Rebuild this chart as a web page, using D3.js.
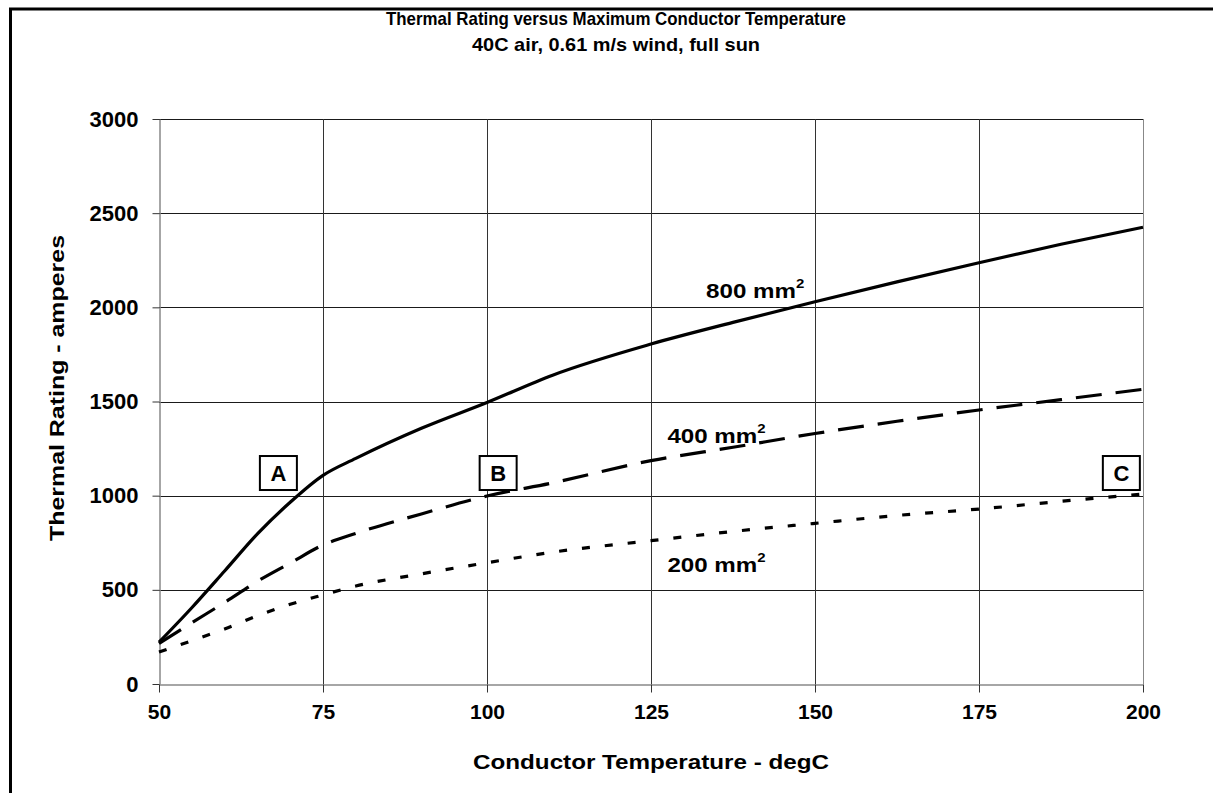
<!DOCTYPE html>
<html>
<head>
<meta charset="utf-8">
<script src="https://cdn.jsdelivr.net/npm/d3@7"></script>
<style>
  html, body { margin: 0; padding: 0; background: #ffffff; }
  svg { display: block; }
  text { font-family: "Liberation Sans", Arial, Helvetica, sans-serif; fill: #000; }
</style>
</head>
<body>
<svg id="chart" width="1213" height="793"></svg>
<script>
// Conductor temperature (degC) at which each rating was read
const temps = [50, 55, 60, 65, 70, 75, 80, 90, 100, 110, 125, 137.5, 150, 162.5, 175, 187.5, 200];

// Thermal rating (amperes) for each conductor size
const rating800 = [222, 405, 600, 797, 965, 1108, 1198, 1358, 1495, 1640, 1805, 1920, 2030, 2135, 2237, 2335, 2425];
const rating400 = [215, 325, 433, 545, 642, 738, 800, 903, 998, 1068, 1186, 1257, 1330, 1395, 1455, 1510, 1565];
const rating200 = [170, 230, 292, 362, 423, 473, 520, 585, 644, 700, 761, 810, 853, 895, 929, 970, 1009];

const seriesNames = ["800 mm", "400 mm", "200 mm"];
// label anchors (temperature, amperes) for the series names
const labelTemps = [133.4, 127.5, 127.5];
const labelAmps = [2049, 1281, 596];

// marked operating points
const markerLetters = ["A", "B", "C"];
const markerTemps = [68.2, 101.7, 196.7];
const markerAmps = [1030, 1030, 1030];

const xTicks = [50, 75, 100, 125, 150, 175, 200];
const yTicks = [0, 500, 1000, 1500, 2000, 2500, 3000];

const titleLines = ["Thermal Rating versus Maximum Conductor Temperature", "40C air, 0.61 m/s wind, full sun"];
const xTitle = "Conductor Temperature - degC";
const yTitle = "Thermal Rating - amperes";

const svg = d3.select("#chart");

const plot = { left: 159, right: 1143, top: 119, bottom: 684 };
const x = d3.scaleLinear().domain([50, 200]).range([plot.left, plot.right]);
const y = d3.scaleLinear().domain([0, 3000]).range([plot.bottom, plot.top]);

// outer frame
svg.append("rect")
  .attr("x", 10.5).attr("y", 9).attr("width", 1230).attr("height", 800)
  .attr("fill", "none").attr("stroke", "#000").attr("stroke-width", 3);

// titles (condensed bold face)
svg.append("text").attr("x", 616).attr("y", 25)
  .attr("text-anchor", "middle").attr("font-size", 19).attr("font-weight", "bold")
  .attr("textLength", 460).attr("lengthAdjust", "spacingAndGlyphs")
  .text(titleLines[0]);
svg.append("text").attr("x", 616).attr("y", 51)
  .attr("text-anchor", "middle").attr("font-size", 19).attr("font-weight", "bold")
  .attr("textLength", 288).attr("lengthAdjust", "spacingAndGlyphs")
  .text(titleLines[1]);

// gridlines
const grid = svg.append("g");
grid.selectAll("line.h").data(yTicks.filter(d => d > 0)).join("line")
  .attr("x1", plot.left).attr("x2", plot.right)
  .attr("y1", d => Math.round(y(d)) + 0.5).attr("y2", d => Math.round(y(d)) + 0.5)
  .attr("stroke", "#1a1a1a").attr("stroke-width", 1);
grid.selectAll("line.v").data(xTicks.filter(d => d > 50 && d < 200)).join("line")
  .attr("y1", plot.top).attr("y2", plot.bottom)
  .attr("x1", d => Math.round(x(d)) + 0.5).attr("x2", d => Math.round(x(d)) + 0.5)
  .attr("stroke", "#333").attr("stroke-width", 1);
// right edge of the plot
grid.append("line")
  .attr("x1", plot.right + 0.5).attr("x2", plot.right + 0.5)
  .attr("y1", plot.top).attr("y2", plot.bottom)
  .attr("stroke", "#888").attr("stroke-width", 1);

// axes
const xAxis = svg.append("g")
  .attr("transform", `translate(0,${plot.bottom + 0.5})`)
  .call(d3.axisBottom(x).tickValues(xTicks).tickFormat(d3.format("d"))
    .tickSize(8).tickPadding(12).tickSizeOuter(0));
const yAxis = svg.append("g")
  .attr("transform", `translate(${plot.left + 0.5},0)`)
  .call(d3.axisLeft(y).tickValues(yTicks).tickFormat(d3.format("d"))
    .tickSize(7).tickPadding(14).tickSizeOuter(0));

[xAxis, yAxis].forEach(a => {
  a.select(".domain").attr("stroke", "#888").attr("stroke-width", 1.5);
  a.selectAll(".tick line").attr("stroke", "#333");
  a.selectAll(".tick text")
    .attr("font-family", "'Liberation Sans', Arial, sans-serif")
    .attr("font-weight", "bold").attr("fill", "#000");
});
xAxis.selectAll(".tick text").attr("font-size", 21);
yAxis.selectAll(".tick text").attr("font-size", 22);

// axis titles
svg.append("text").attr("x", (plot.left + plot.right) / 2).attr("y", 769)
  .attr("text-anchor", "middle").attr("font-size", 21).attr("font-weight", "bold")
  .attr("textLength", 356).attr("lengthAdjust", "spacingAndGlyphs")
  .text(xTitle);
svg.append("text")
  .attr("transform", `translate(64,388) rotate(-90)`)
  .attr("text-anchor", "middle").attr("font-size", 21).attr("font-weight", "bold")
  .attr("textLength", 306).attr("lengthAdjust", "spacingAndGlyphs")
  .text(yTitle);

// marker boxes
const boxW = 37, boxH = 34;
const boxes = svg.append("g").selectAll("g").data(markerLetters).join("g")
  .attr("transform", (d, i) => `translate(${x(markerTemps[i])},${y(markerAmps[i])})`);
boxes.append("rect")
  .attr("x", -boxW / 2).attr("y", -boxH).attr("width", boxW).attr("height", boxH)
  .attr("fill", "#fff").attr("stroke", "#000").attr("stroke-width", 2);
boxes.append("text")
  .attr("x", 0).attr("y", -9)
  .attr("text-anchor", "middle").attr("font-size", 22).attr("font-weight", "bold")
  .text(d => d);

// rating curves
const series = [
  { values: rating800, dash: null },
  { values: rating400, dash: "26,14" },
  { values: rating200, dash: "8,15" }
];
const line = d3.line()
  .x(d => x(d[0]))
  .y(d => y(d[1]))
  .curve(d3.curveMonotoneX);
svg.append("g").selectAll("path").data(series).join("path")
  .attr("d", s => line(temps.map((t, i) => [t, s.values[i]])))
  .attr("fill", "none").attr("stroke", "#000").attr("stroke-width", 3.2)
  .attr("stroke-dasharray", s => s.dash);

// series labels with squared units, set slightly wide
const labels = svg.append("g").selectAll("g").data(seriesNames).join("g")
  .attr("transform", (d, i) => `translate(${x(labelTemps[i])},${y(labelAmps[i])}) scale(1.15,1)`)
  .append("text")
  .attr("x", 0).attr("y", 0)
  .attr("font-size", 21).attr("font-weight", "bold");
labels.append("tspan").text(d => d);
labels.append("tspan").attr("dy", -10).attr("font-size", 13).text("2");
</script>
</body>
</html>
